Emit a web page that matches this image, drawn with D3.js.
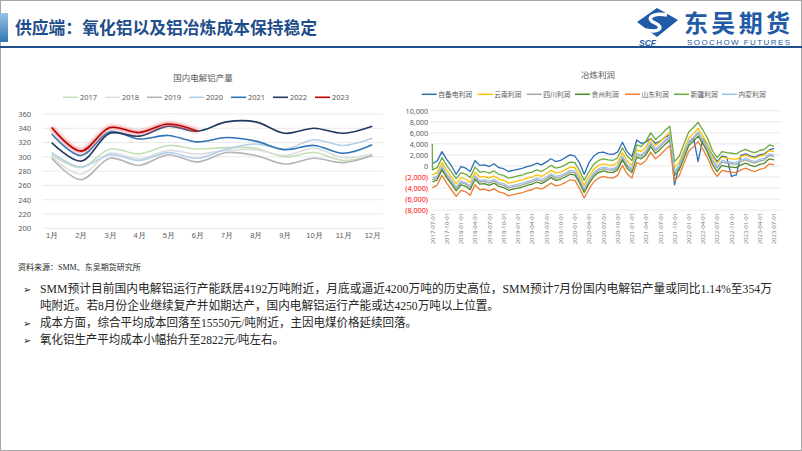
<!DOCTYPE html>
<html><head><meta charset="utf-8">
<script src="https://cdn.jsdelivr.net/npm/d3@7"></script>
<style>
body{margin:0;background:#fff;}
svg{display:block;font-family:"Noto Sans CJK SC","Noto Sans",sans-serif;}
</style></head><body>
<svg id="c" width="802" height="451"></svg>
<script>
// ---------------- data ----------------
const months = ["1月","2月","3月","4月","5月","6月","7月","8月","9月","10月","11月","12月"];
const prodYears = ["2017","2018","2019","2020","2021","2022","2023"];
const prod2017 = [303,285,311,304,316,311,313,312,300,306,295,302];
const prod2018 = [300,276,305,297,309,304,309,310,302,312,299,304];
const prod2019 = [298,268,298,288,303,293,306,302,290,298,292,302];
const prod2020 = [306,286,303,295,306,298,311,318,311,324,316,326];
const prod2021 = [332,302,335,325,330,321,327,322,310,316,305,317];
const prod2022 = [320,294,333,329,343,336,349,349,333,340,333,343];
const prod2023 = [341,308,341,334,346,336];
const prodTicks = [200,220,240,260,280,300,320,340,360];

const profitNames = ["自备电利润","云南利润","四川利润","贵州利润","山东利润","新疆利润","内蒙利润"];
const profitStart = "2017-07-01", profitEnd = "2023-07-01";
const profitZibei = [400,900,2600,1200,0,-1500,-100,-400,-1000,1000,100,200,-100,400,-300,-500,-1000,-800,-600,-400,-100,100,500,200,700,1300,800,1000,1500,2000,1800,500,-1500,600,1800,2400,2500,2200,2100,2500,4300,2600,1700,4700,4100,4300,5000,4100,4500,5200,5600,-3400,200,2500,4200,5000,800,5000,3800,2000,800,1800,1600,-1900,-1600,1900,2200,1800,1600,2000,2200,2900,3200];
const profitYunnan = [-1600,-1200,600,-800,-2000,-3200,-2100,-2400,-3000,-1100,-2000,-1900,-2200,-1800,-2400,-2600,-3100,-2900,-2700,-2500,-2200,-2000,-1600,-1900,-1400,-800,-1300,-1100,-700,-200,-300,-1800,-3500,-1900,-600,100,400,200,100,600,2400,900,100,2900,2600,3400,4900,3700,4400,5300,6100,-300,700,2900,5100,5900,6800,5400,3900,1800,500,1600,1400,1300,1200,1700,2000,1600,1400,1800,2000,2800,2600];
const profitSichuan = [-2500,-2100,-300,-1700,-2900,-4100,-3000,-3300,-3900,-2000,-2900,-2800,-3100,-2700,-3300,-3500,-4000,-3800,-3600,-3400,-3100,-2900,-2500,-2800,-2300,-1700,-2200,-2000,-1600,-1100,-1200,-2700,-4400,-2800,-1500,-800,-500,-700,-800,-300,1500,0,-800,2000,1700,2500,4000,2800,3500,4400,5200,-1200,-200,2000,4200,5000,5900,4500,3000,900,-400,700,500,400,300,800,1100,700,500,900,1100,1900,1700];
const profitGuizhou = [-2900,-2500,-700,-2100,-3300,-4500,-3400,-3700,-4300,-2400,-3300,-3200,-3500,-3100,-3700,-3900,-4400,-4200,-4000,-3800,-3500,-3300,-2900,-3200,-2700,-2100,-2600,-2400,-2000,-1500,-1600,-3100,-4800,-3200,-1900,-1200,-900,-1100,-1200,-700,1100,-400,-1200,1600,1300,2000,3500,2300,3000,3900,4700,-1700,-700,1500,3700,4500,5400,4000,2500,300,-1000,100,-100,-200,-300,200,500,100,-100,300,500,1300,1100];
const profitShandong = [-3900,-3500,-1700,-3100,-4300,-5500,-4400,-4700,-5300,-3400,-4300,-4200,-4500,-4100,-4700,-4900,-5400,-5200,-5000,-4800,-4500,-4300,-3900,-4200,-3700,-3100,-3600,-3400,-3000,-2500,-2600,-4100,-5800,-4200,-2900,-2200,-1900,-2100,-2200,-1700,100,-1400,-2200,600,300,1000,2500,1300,2000,2900,3700,-2700,-1700,500,2700,3500,4400,3000,1500,-600,-1900,-800,-1000,-1100,-1200,-700,-400,-800,-1000,-600,-400,400,200];
const profitXinjiang = [-700,-300,1500,100,-1100,-2300,-1200,-1500,-2100,-200,-1100,-1000,-1300,-900,-1500,-1700,-2200,-2000,-1800,-1600,-1300,-1100,-700,-1000,-500,100,-400,-200,200,700,600,-900,-2600,-1000,300,1000,1300,1100,1000,1500,3300,1800,1000,3800,3500,4500,6000,4800,5500,6400,7200,800,1800,4000,6200,7000,7900,6500,5000,2800,1500,2600,2400,2300,2200,2700,3000,2600,2400,2800,3000,3800,3600];
const profitXinjiangFirstDay = 4000;
const profitNeimeng = [-2200,-1800,0,-1400,-2600,-3800,-2700,-3000,-3600,-1700,-2600,-2500,-2800,-2400,-3000,-3200,-3700,-3500,-3300,-3100,-2800,-2600,-2200,-2500,-2000,-1400,-1900,-1700,-1300,-800,-900,-2400,-4100,-2500,-1200,-500,-200,-400,-500,0,1800,300,-500,2300,2000,2800,4300,3100,3800,4700,5500,-900,100,2300,4500,5300,6200,4800,3300,1200,-100,1000,800,700,600,1100,1400,1000,800,1200,1400,2200,2000];
const profitTicks = [-8000,-6000,-4000,-2000,0,2000,4000,6000,8000,10000];

const prodColors = ["#C5E0B4","#DDDDDD","#B4B4B4","#B4CFEA","#2E75B6","#1F3864","#C00000"];
const profitColors = ["#2E6DB4","#FFC000","#A5A5A5","#4E8A2C","#ED7D31","#6AAA3E","#9DC3E6"];

// ---------------- frame & header ----------------
const svg = d3.select("#c");
const defs = svg.append("defs");
const g1 = defs.append("linearGradient").attr("id","acc").attr("x1",0).attr("y1",0).attr("x2",0).attr("y2",1);
g1.append("stop").attr("offset","0%").attr("stop-color","#9DC3E6");
g1.append("stop").attr("offset","100%").attr("stop-color","#2E75B6");
const glow = defs.append("filter").attr("id","glow").attr("x","-10%").attr("y","-50%").attr("width","120%").attr("height","200%");
glow.append("feGaussianBlur").attr("stdDeviation",1.6);

svg.append("rect").attr("x",0.5).attr("y",0.5).attr("width",801).attr("height",450)
  .attr("fill","none").attr("stroke","#A6A6A6");
svg.append("rect").attr("x",0).attr("y",13).attr("width",8).attr("height",29).attr("fill","url(#acc)");
svg.append("text").attr("x",15).attr("y",34).attr("font-size",16.8).attr("font-weight",700)
  .attr("fill","#1F4E8C").text("供应端：氧化铝以及铝冶炼成本保持稳定");
svg.append("line").attr("x1",0).attr("x2",802).attr("y1",47).attr("y2",47)
  .attr("stroke","#1F4E8C").attr("stroke-width",2);

// logo
const logo = svg.append("g");
logo.append("path").attr("d","M657,8 L678,20 L657,37 L637,22 Z").attr("fill","#1F5BA6");
logo.append("path").attr("d","M667,15 C652,12 645,19 655,23 C664,27 660,33 646,30")
  .attr("fill","none").attr("stroke","#fff").attr("stroke-width",3.5);
logo.append("text").attr("x",639).attr("y",45.5).attr("font-size",8.5).attr("font-weight",700)
  .attr("font-style","italic").attr("fill","#1F5BA6").attr("font-family","Liberation Sans").text("SCF");
logo.append("text").attr("x",684).attr("y",32).attr("font-size",24).attr("font-weight",700)
  .attr("fill","#1F5BA6").attr("textLength",106).text("东吴期货");
logo.append("text").attr("x",687).attr("y",44.5).attr("font-size",8).attr("fill","#1F5BA6")
  .attr("font-family","Liberation Sans").attr("textLength",103).text("SOOCHOW FUTURES");

// ---------------- left chart ----------------
const L = svg.append("g");
const lx = d3.scaleLinear().domain([0,11]).range([51.7,372.3]);
const ly = d3.scaleLinear().domain([200,360]).range([228.3,114]);
L.append("text").attr("x",203).attr("y",81).attr("text-anchor","middle").attr("font-size",8.5)
  .attr("fill","#595959").text("国内电解铝产量");
L.selectAll("line.g").data(prodTicks).join("line").attr("x1",42).attr("x2",383)
  .attr("y1",d=>ly(d)).attr("y2",d=>ly(d)).attr("stroke","#E3E3E3").attr("stroke-width",0.8);
const lyAxis = d3.axisLeft(ly).tickValues(prodTicks).tickSize(0).tickPadding(0);
L.append("g").attr("transform","translate(31,0)").call(lyAxis)
  .call(g=>g.select(".domain").remove())
  .call(g=>g.selectAll("text").attr("font-size",7.5).attr("fill","#595959").attr("font-family","Noto Sans"));
const lxAxis = d3.axisBottom(d3.scalePoint().domain(months).range([51.7,372.3])).tickSize(0).tickPadding(0);
L.append("g").attr("transform","translate(0,233)").call(lxAxis)
  .call(g=>g.select(".domain").remove())
  .call(g=>g.selectAll("text").attr("font-size",7.5).attr("fill","#595959"));
const prodSeries = [prod2017,prod2018,prod2019,prod2020,prod2021,prod2022,prod2023];
const lline = d3.line().x((d,i)=>lx(i)).y(d=>ly(d)).curve(d3.curveCatmullRom.alpha(0.5));
prodSeries.forEach((s,k)=>{
  if(k===6){
    L.append("path").attr("d",lline(s)).attr("fill","none").attr("stroke","#E88080")
      .attr("stroke-width",4.5).attr("opacity",0.7).attr("filter","url(#glow)");
  }
  L.append("path").attr("d",lline(s)).attr("fill","none").attr("stroke",prodColors[k])
    .attr("stroke-width",1.6);
});
const legX = [63,105,147,189,231,273,315];
prodYears.forEach((y,k)=>{
  L.append("line").attr("x1",legX[k]).attr("x2",legX[k]+15).attr("y1",97.3).attr("y2",97.3)
    .attr("stroke",prodColors[k]).attr("stroke-width",1.6);
  L.append("text").attr("x",legX[k]+17).attr("y",100).attr("font-size",7.5).attr("fill","#595959")
    .attr("font-family","Noto Sans").text(y);
});

// ---------------- right chart ----------------
const R = svg.append("g");
const parse = d3.timeParse("%Y-%m-%d");
const t0 = parse(profitStart), t1 = parse(profitEnd);
const dates = d3.timeMonth.range(t0, d3.timeMonth.offset(t1,1));
const rx = d3.scaleTime().domain([t0,t1]).range([432.3,774]);
const ry = d3.scaleLinear().domain([-8000,10000]).range([210.2,110.7]);
R.append("text").attr("x",598).attr("y",78).attr("text-anchor","middle").attr("font-size",8.5)
  .attr("fill","#595959").text("冶炼利润");
R.selectAll("line.g").data(profitTicks).join("line").attr("x1",431).attr("x2",781)
  .attr("y1",d=>ry(d)).attr("y2",d=>ry(d)).attr("stroke","#E3E3E3").attr("stroke-width",0.8);
const fmt = d3.format(",");
const ryAxis = d3.axisLeft(ry).tickValues(profitTicks).tickSize(0).tickPadding(0)
  .tickFormat(v=> v<0 ? "("+fmt(-v)+")" : fmt(v));
R.append("g").attr("transform","translate(428,0)").call(ryAxis)
  .call(g=>g.select(".domain").remove())
  .call(g=>g.selectAll("text").attr("font-size",7.2).attr("font-family","Noto Sans")
     .attr("fill",d=>d<0?"#FF0000":"#595959"));
const qTicks = d3.timeMonth.every(3).range(t0, d3.timeDay.offset(t1,1));
const rxAxis = d3.axisBottom(rx).tickValues(qTicks).tickSize(0).tickPadding(0)
  .tickFormat(d3.timeFormat("%Y-%m-%d"));
R.append("g").attr("transform","translate(0,213)").call(rxAxis)
  .call(g=>g.select(".domain").remove())
  .call(g=>g.selectAll("text").attr("font-size",6).attr("fill","#7F7F7F").attr("font-family","Noto Sans")
     .attr("text-anchor","end").attr("dy","0.32em").attr("transform","rotate(-90)").attr("x",0).attr("y",0));
const profitSeries = [profitZibei,profitYunnan,profitSichuan,profitGuizhou,profitShandong,profitXinjiang,profitNeimeng];
const rline = d3.line().x(d=>rx(d[0])).y(d=>ry(d[1]));
profitSeries.forEach((s,k)=>{
  let pts = s.map((v,i)=>[dates[i],v]);
  if(k===5){ pts = [[t0,profitXinjiangFirstDay],[d3.timeDay.offset(t0,1),s[0]]].concat(pts.slice(1)); }
  R.append("path").attr("d",rline(pts)).attr("fill","none").attr("stroke",profitColors[k])
    .attr("stroke-width",1.3).attr("stroke-linejoin","round");
});
const rlegX = [421.7,477.7,526.7,575,625,674,722];
profitNames.forEach((n,k)=>{
  R.append("line").attr("x1",rlegX[k]).attr("x2",rlegX[k]+15).attr("y1",94.3).attr("y2",94.3)
    .attr("stroke",profitColors[k]).attr("stroke-width",1.5);
  R.append("text").attr("x",rlegX[k]+16.5).attr("y",97).attr("font-size",6.8).attr("fill","#595959").text(n);
});

// ---------------- notes ----------------
const N = svg.append("g").attr("font-family","'Liberation Serif','Noto Sans CJK SC',serif").attr("fill","#262626");
N.append("text").attr("x",18).attr("y",270).attr("font-size",8).text("资料来源：SMM、东吴期货研究所");
const bullets = [
  {y:293, lines:["SMM预计目前国内电解铝运行产能跃居4192万吨附近，月底或逼近4200万吨的历史高位，SMM预计7月份国内电解铝产量或同比1.14%至354万",
                 "吨附近。若8月份企业继续复产并如期达产，国内电解铝运行产能或达4250万吨以上位置。"]},
  {y:327, lines:["成本方面，综合平均成本回落至15550元/吨附近，主因电煤价格延续回落。"]},
  {y:344, lines:["氧化铝生产平均成本小幅抬升至2822元/吨左右。"]}
];
const widths = [[732,459],[377],[244]];
bullets.forEach((b,i)=>{
  N.append("text").attr("x",23).attr("y",b.y).attr("font-size",10).attr("font-family","DejaVu Sans").text("➢");
  b.lines.forEach((ln,j)=>{
    const t = N.append("text").attr("x",40).attr("y",b.y+j*16.5).attr("font-size",12).text(ln);
    const w = t.node().getComputedTextLength();
    if (Math.abs(w-widths[i][j])>4) t.attr("textLength",widths[i][j]).attr("lengthAdjust","spacingAndGlyphs");
  });
});
</script>
</body></html>
